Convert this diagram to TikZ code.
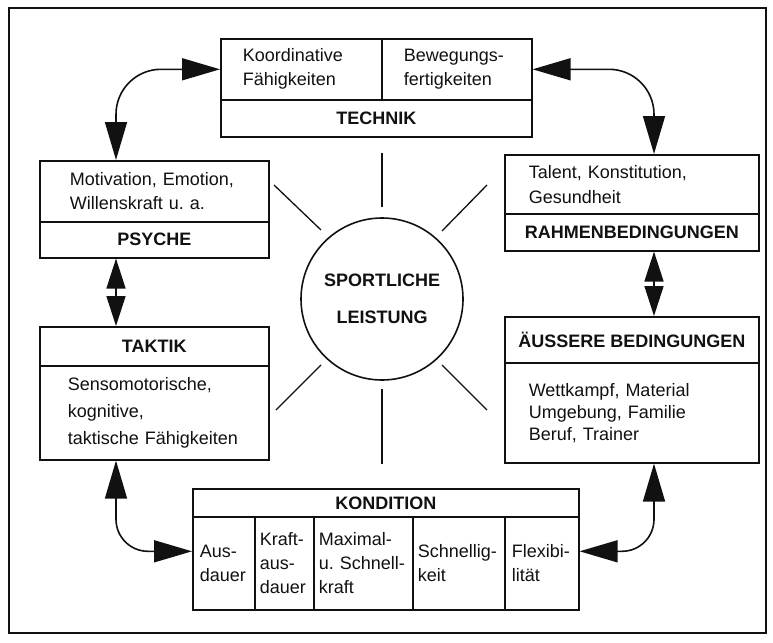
\documentclass[tikz,border=0pt]{standalone}
\usepackage{fontspec}
\setmainfont{Liberation Sans}
\usetikzlibrary{arrows.meta}
\frenchspacing
\definecolor{ink}{HTML}{111111}
\tikzset{
  cell/.style={draw=ink, line width=1.6pt, anchor=north west, inner ysep=0pt, align=left, text=ink, font=\fontsize{18}{24}\selectfont},
  headcell/.style={cell, align=center, inner xsep=0pt, font=\bfseries\fontsize{18}{22}\selectfont},
  sun/.style={circle, draw=ink, line width=1.6pt, minimum size=162pt, inner sep=0pt, align=center, text=ink, font=\bfseries\fontsize{18}{37}\selectfont},
  ray/.style={draw=ink, line width=1.3pt},
  dblarrow/.style={<->, >={Triangle[length=30pt,width=19pt]}, draw=ink, line width=1.6pt},
  bendarrow/.style={<->, >={Triangle[length=38pt,width=22pt]}, draw=ink, line width=1.6pt}
}
\begin{document}
\begin{tikzpicture}[x=1pt, y=-1pt]
  \useasboundingbox[fill=white] (0,0) rectangle (773,642);
  \draw[ink, line width=1.6pt] (9,8) rectangle (766,633);
  % Technik
  \node[cell, minimum width=161pt, minimum height=61pt, text width=117pt, inner xsep=22pt] (koord) at (220,38) {Koordinative\\Fähigkeiten};
  \node[cell, minimum width=150pt, minimum height=61pt, text width=106pt, inner xsep=22pt] (beweg) at (381,38) {Bewegungs-\\fertigkeiten};
  \node[headcell, minimum width=311pt, minimum height=37pt] (technik) at (220,99) {TECHNIK};
  % Psyche und Taktik
  \node[cell, minimum width=229pt, minimum height=61pt, text width=169pt, inner xsep=30pt] (psyche-txt) at (39,160) {Motivation, Emotion,\\Willenskraft u. a.};
  \node[headcell, minimum width=229pt, minimum height=36pt] (psyche) at (39,221) {PSYCHE};
  \node[headcell, minimum width=229pt, minimum height=39pt] (taktik) at (39,326) {TAKTIK};
  \node[cell, minimum width=229pt, minimum height=94pt, text width=173pt, inner xsep=28pt, font=\fontsize{18}{27}\selectfont] (taktik-txt) at (39,365) {Sensomotorische,\\kognitive,\\taktische Fähigkeiten};
  % Rahmen und aeussere Bedingungen
  \node[cell, minimum width=254pt, minimum height=59pt, text width=206pt, inner xsep=24pt, font=\fontsize{18}{25}\selectfont] (rahmen-txt) at (504,154) {Talent, Konstitution,\\Gesundheit};
  \node[headcell, minimum width=254pt, minimum height=37pt] (rahmen) at (504,213) {RAHMENBEDINGUNGEN};
  \node[headcell, minimum width=254pt, minimum height=46pt] (aussen) at (504,316) {ÄUSSERE BEDINGUNGEN};
  \node[cell, minimum width=254pt, minimum height=100pt, text width=206pt, inner xsep=24pt, font=\fontsize{18}{22}\selectfont] (aussen-txt) at (504,362) {Wettkampf, Material\\Umgebung, Familie\\Beruf, Trainer};
  % Kondition
  \node[headcell, minimum width=386pt, minimum height=28pt] (kondition) at (192,488) {KONDITION};
  \node[cell, minimum width=62pt, minimum height=93pt, text width=48pt, inner xsep=7pt] (ausd) at (192,516) {Aus-\\dauer};
  \node[cell, minimum width=59pt, minimum height=93pt, text width=49pt, inner xsep=5pt] (kraft) at (254,516) {Kraft-\\aus-\\dauer};
  \node[cell, minimum width=99pt, minimum height=93pt, text width=89pt, inner xsep=5pt] (maxi) at (313,516) {Maximal-\\u. Schnell-\\kraft};
  \node[cell, minimum width=92pt, minimum height=93pt, text width=82pt, inner xsep=5pt] (schnell) at (412,516) {Schnellig-\\keit};
  \node[cell, minimum width=74pt, minimum height=93pt, text width=60pt, inner xsep=7pt] (flex) at (504,516) {Flexibi-\\lität};
  % Mitte
  \node[sun] (sport) at (382,299) {SPORTLICHE\\LEISTUNG};
  \draw[ray] (382,153) -- (382,207);
  \draw[ray] (274,185) -- (321,230);
  \draw[ray] (487,185) -- (442,231);
  \draw[ray] (321,365) -- (276,410);
  \draw[ray] (442,365) -- (487,410);
  \draw[ray] (382,389) -- (382,464);
  % Pfeile
  \draw[bendarrow, rounded corners=45pt] (koord.west) -| ([xshift=77pt]psyche-txt.north west);
  \draw[bendarrow, rounded corners=45pt] (beweg.east) -| ([xshift=150pt]rahmen-txt.north west);
  \draw[dblarrow] ([xshift=77pt]psyche.south west) -- ([xshift=77pt]taktik.north west);
  \draw[dblarrow] ([xshift=150pt]rahmen.south west) -- ([xshift=150pt]aussen.north west);
  \draw[bendarrow, rounded corners=32pt] ([xshift=77pt]taktik-txt.south west) |- ([yshift=12pt]ausd.west);
  \draw[bendarrow, rounded corners=32pt] ([xshift=150pt]aussen-txt.south west) |- ([yshift=12pt]flex.east);
\end{tikzpicture}
\end{document}
